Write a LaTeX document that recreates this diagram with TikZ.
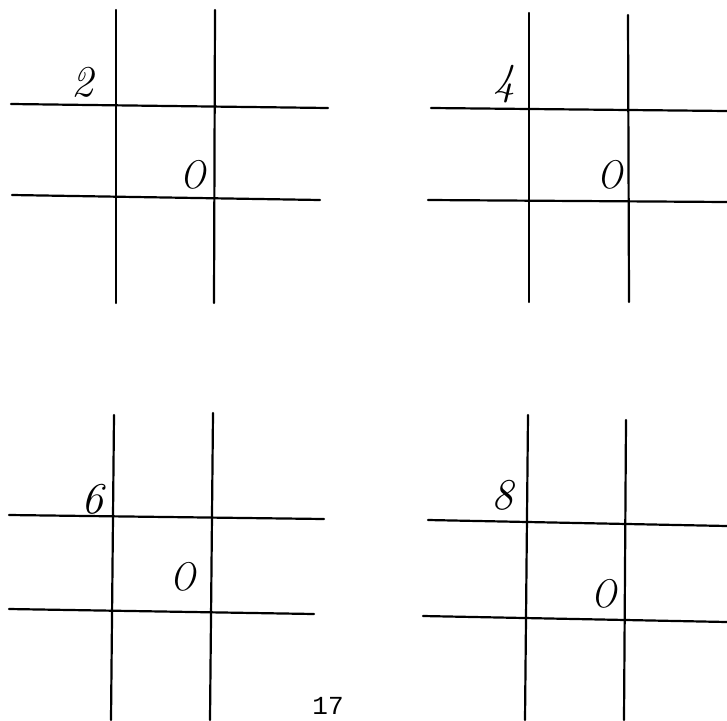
\documentclass[tikz,border=0pt]{standalone}
\usepackage{fontspec}
\newfontfamily\typewriterfont{Liberation Mono}
\begin{document}
\begin{tikzpicture}[x=1pt,y=-1pt,
  gridline/.style={line width=2.2pt,line cap=round},
  hand/.style={font=\fontsize{44}{44}\selectfont\itshape,inner sep=0pt},
  mark0/.style={font=\fontsize{40}{40}\selectfont\itshape,inner sep=0pt,xscale=0.85},
  pagenum/.style={font=\fontsize{26}{26}\selectfont\typewriterfont,inner sep=0pt,anchor=base}]
\useasboundingbox (0,0) rectangle (727,720);
% grid 1 (top-left)
\draw[gridline] (116,10) -- (116,303);
\draw[gridline] (215,10) -- (214,303);
\draw[gridline] (11,104) -- (328,108);
\draw[gridline] (12,195) -- (320,200);
\node[hand] (n2) at (82,82) {2};
\node[mark0] (o1) at (193,175) {O};
% grid 2 (top-right)
\draw[gridline] (529,13) -- (529,302);
\draw[gridline] (628,15) -- (629,302);
\draw[gridline] (431,108) -- (727,111);
\draw[gridline] (428,200) -- (727,202);
\node[hand] (n4) at (504,84) {4};
\node[mark0] (o2) at (610,175) {O};
% grid 3 (bottom-left)
\draw[gridline] (114,415) -- (111,720);
\draw[gridline] (213,413) -- (210,720);
\draw[gridline] (9,515) -- (324,519);
\draw[gridline] (9,609) -- (314,614);
\node[hand] (n6) at (92,499) {6};
\node[mark0] (o3) at (183,577) {O};
% grid 4 (bottom-right)
\draw[gridline] (528,415) -- (525,720);
\draw[gridline] (626,420) -- (624,720);
\draw[gridline] (428,520) -- (727,526);
\draw[gridline] (423,616) -- (727,622);
\node[hand] (n8) at (502,495) {8};
\node[mark0] (o4) at (604,594) {O};
% page number
\node[pagenum] (pg) at (328,714) {17};
\end{tikzpicture}
\end{document}
